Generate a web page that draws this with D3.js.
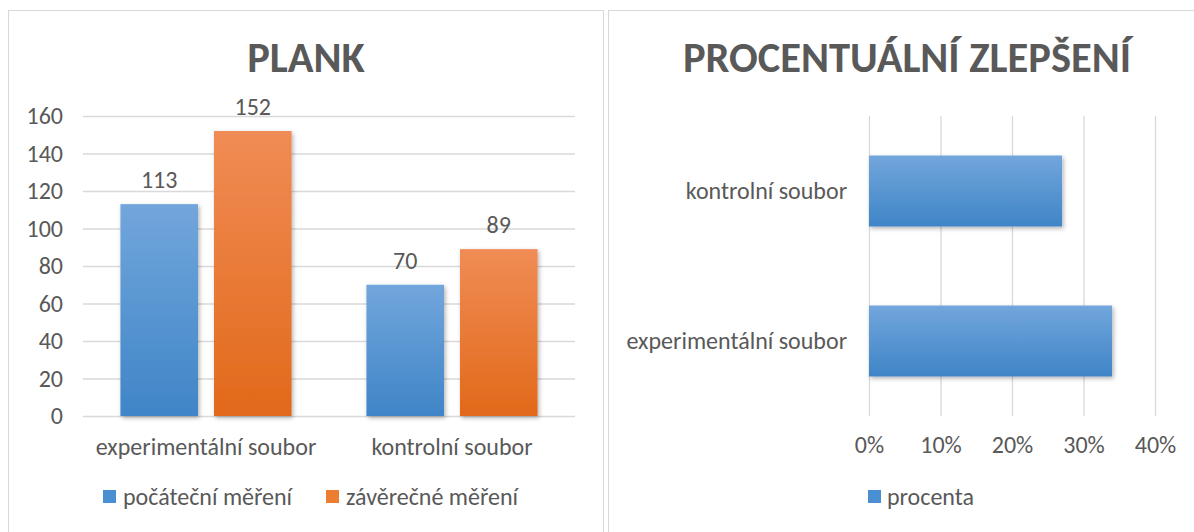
<!DOCTYPE html>
<html>
<head>
<meta charset="utf-8">
<script src="https://cdn.jsdelivr.net/npm/d3@7"></script>
<style>
  body { margin:0; background:#fff; }
  svg { display:block; }
  text { font-family: Carlito, Calibri, Lato, sans-serif; fill:#595959; }
</style>
</head>
<body>
<svg id="chart" width="1194" height="532"></svg>
<script>
// ---- data ----
const categories = ["experimentální soubor", "kontrolní soubor"];
const seriesNames = ["počáteční měření", "závěrečné měření"];
const initialValues = [113, 70];
const finalValues = [152, 89];
const yTicksLeft = [0, 20, 40, 60, 80, 100, 120, 140, 160];

const pctCategories = ["kontrolní soubor", "experimentální soubor"];
const pctValues = [0.27, 0.34];
const pctSeriesName = "procenta";
const xTicksRight = [0, 0.1, 0.2, 0.3, 0.4];

const titleLeft = "PLANK";
const titleRight = "PROCENTUÁLNÍ ZLEPŠENÍ";

// ---- setup ----
const FS = "24px";
const FF = "Carlito, Calibri, Lato, sans-serif";
const svg = d3.select("#chart");
const defs = svg.append("defs");
function grad(id, top, bottom) {
  const g = defs.append("linearGradient").attr("id", id).attr("x1", 0).attr("y1", 0).attr("x2", 0).attr("y2", 1);
  g.append("stop").attr("offset", "0%").attr("stop-color", top);
  g.append("stop").attr("offset", "100%").attr("stop-color", bottom);
}
grad("gBlue", "#72a6dc", "#3f85c7");
grad("gOrange", "#f08c55", "#e2691a");
const f = defs.append("filter").attr("id", "shadow").attr("x", "-20%").attr("y", "-20%").attr("width", "140%").attr("height", "140%");
f.append("feDropShadow").attr("dx", 1.5).attr("dy", 2).attr("stdDeviation", 2).attr("flood-color", "#000").attr("flood-opacity", 0.3);

const colors = ["url(#gBlue)", "url(#gOrange)"];
const legendColors = ["#4a8fd2", "#ed7d31"];

// panel borders
svg.append("rect").attr("x", 8.5).attr("y", 10.5).attr("width", 595).attr("height", 540)
  .attr("fill", "none").attr("stroke", "#d9d9d9");
svg.append("rect").attr("x", 608.5).attr("y", 10.5).attr("width", 600).attr("height", 540)
  .attr("fill", "none").attr("stroke", "#d9d9d9");

// ---- LEFT CHART ----
const L = { left: 83, right: 575, top: 116, bottom: 416 };
const y = d3.scaleLinear().domain([0, 160]).range([L.bottom, L.top]);
const x0 = d3.scaleBand().domain(categories).range([L.left, L.right]).padding(0);
const x1 = d3.scaleBand().domain(seriesNames).range([0, x0.bandwidth()]).paddingInner(0.171).paddingOuter(0.40);

svg.append("text").attr("x", 306).attr("y", 72).attr("text-anchor", "middle")
  .style("font-size", "42.5px").style("font-weight", "bold").text(titleLeft);

const yAxis = svg.append("g").attr("transform", `translate(${L.left},0)`)
  .call(d3.axisLeft(y).tickValues(yTicksLeft).tickSize(-(L.right - L.left)).tickPadding(20).tickFormat(d3.format("d")));
yAxis.select(".domain").remove();
yAxis.selectAll("line").attr("stroke", "#d9d9d9").attr("stroke-width", 1.3);
yAxis.selectAll("text").style("font-size", FS).style("font-family", FF).attr("fill", "#595959");

const groups = categories.map((c, i) => ({ cat: c, vals: [initialValues[i], finalValues[i]] }));
const g = svg.append("g");
groups.forEach(gr => {
  gr.vals.forEach((v, j) => {
    const bx = x0(gr.cat) + x1(seriesNames[j]);
    g.append("rect").attr("x", bx).attr("y", y(v)).attr("width", x1.bandwidth()).attr("height", y(0) - y(v))
      .attr("fill", colors[j]).attr("filter", "url(#shadow)");
    g.append("text").attr("x", bx + x1.bandwidth() / 2).attr("y", y(v) - 16).attr("text-anchor", "middle")
      .style("font-size", FS).text(v);
  });
});

const xAxisL = svg.append("g").attr("transform", `translate(0,${L.bottom})`)
  .call(d3.axisBottom(x0).tickSize(0).tickPadding(22));
xAxisL.select(".domain").remove();
xAxisL.selectAll("text").style("font-size", FS).style("font-family", FF).attr("fill", "#595959");

// legend left
const legendL = [{ x: 103, tx: 123 }, { x: 326, tx: 346 }];
seriesNames.forEach((s, i) => {
  svg.append("rect").attr("x", legendL[i].x).attr("y", 490).attr("width", 13).attr("height", 13).attr("fill", legendColors[i]);
  svg.append("text").attr("x", legendL[i].tx).attr("y", 505).style("font-size", FS).text(s);
});

// ---- RIGHT CHART ----
const R = { left: 869, right: 1155, top: 116, bottom: 416 };
const xr = d3.scaleLinear().domain([0, 0.4]).range([R.left, R.right]);
const yr = d3.scaleBand().domain(pctCategories).range([R.top, R.bottom]).paddingInner(0.527).paddingOuter(0.2635);

svg.append("text").attr("x", 907).attr("y", 72).attr("text-anchor", "middle")
  .style("font-size", "42.5px").style("font-weight", "bold").text(titleRight);

const xAxisR = svg.append("g").attr("transform", `translate(0,${R.bottom})`)
  .call(d3.axisBottom(xr).tickValues(xTicksRight).tickSize(-(R.bottom - R.top)).tickPadding(20).tickFormat(d3.format(".0%")));
xAxisR.select(".domain").remove();
xAxisR.selectAll("line").attr("stroke", "#d9d9d9").attr("stroke-width", 1.3);
xAxisR.selectAll("text").style("font-size", FS).style("font-family", FF).attr("fill", "#595959");

pctCategories.forEach((c, i) => {
  svg.append("rect").attr("x", xr(0)).attr("y", yr(c)).attr("width", xr(pctValues[i]) - xr(0)).attr("height", yr.bandwidth())
    .attr("fill", "url(#gBlue)").attr("filter", "url(#shadow)");
});

const yAxisR = svg.append("g").attr("transform", `translate(${R.left},0)`)
  .call(d3.axisLeft(yr).tickSize(0).tickPadding(22));
yAxisR.select(".domain").remove();
yAxisR.selectAll("text").style("font-size", FS).style("font-family", FF).attr("fill", "#595959");

svg.append("rect").attr("x", 868).attr("y", 490).attr("width", 13).attr("height", 13).attr("fill", legendColors[0]);
svg.append("text").attr("x", 887).attr("y", 505).style("font-size", FS).text(pctSeriesName);
</script>
</body>
</html>
